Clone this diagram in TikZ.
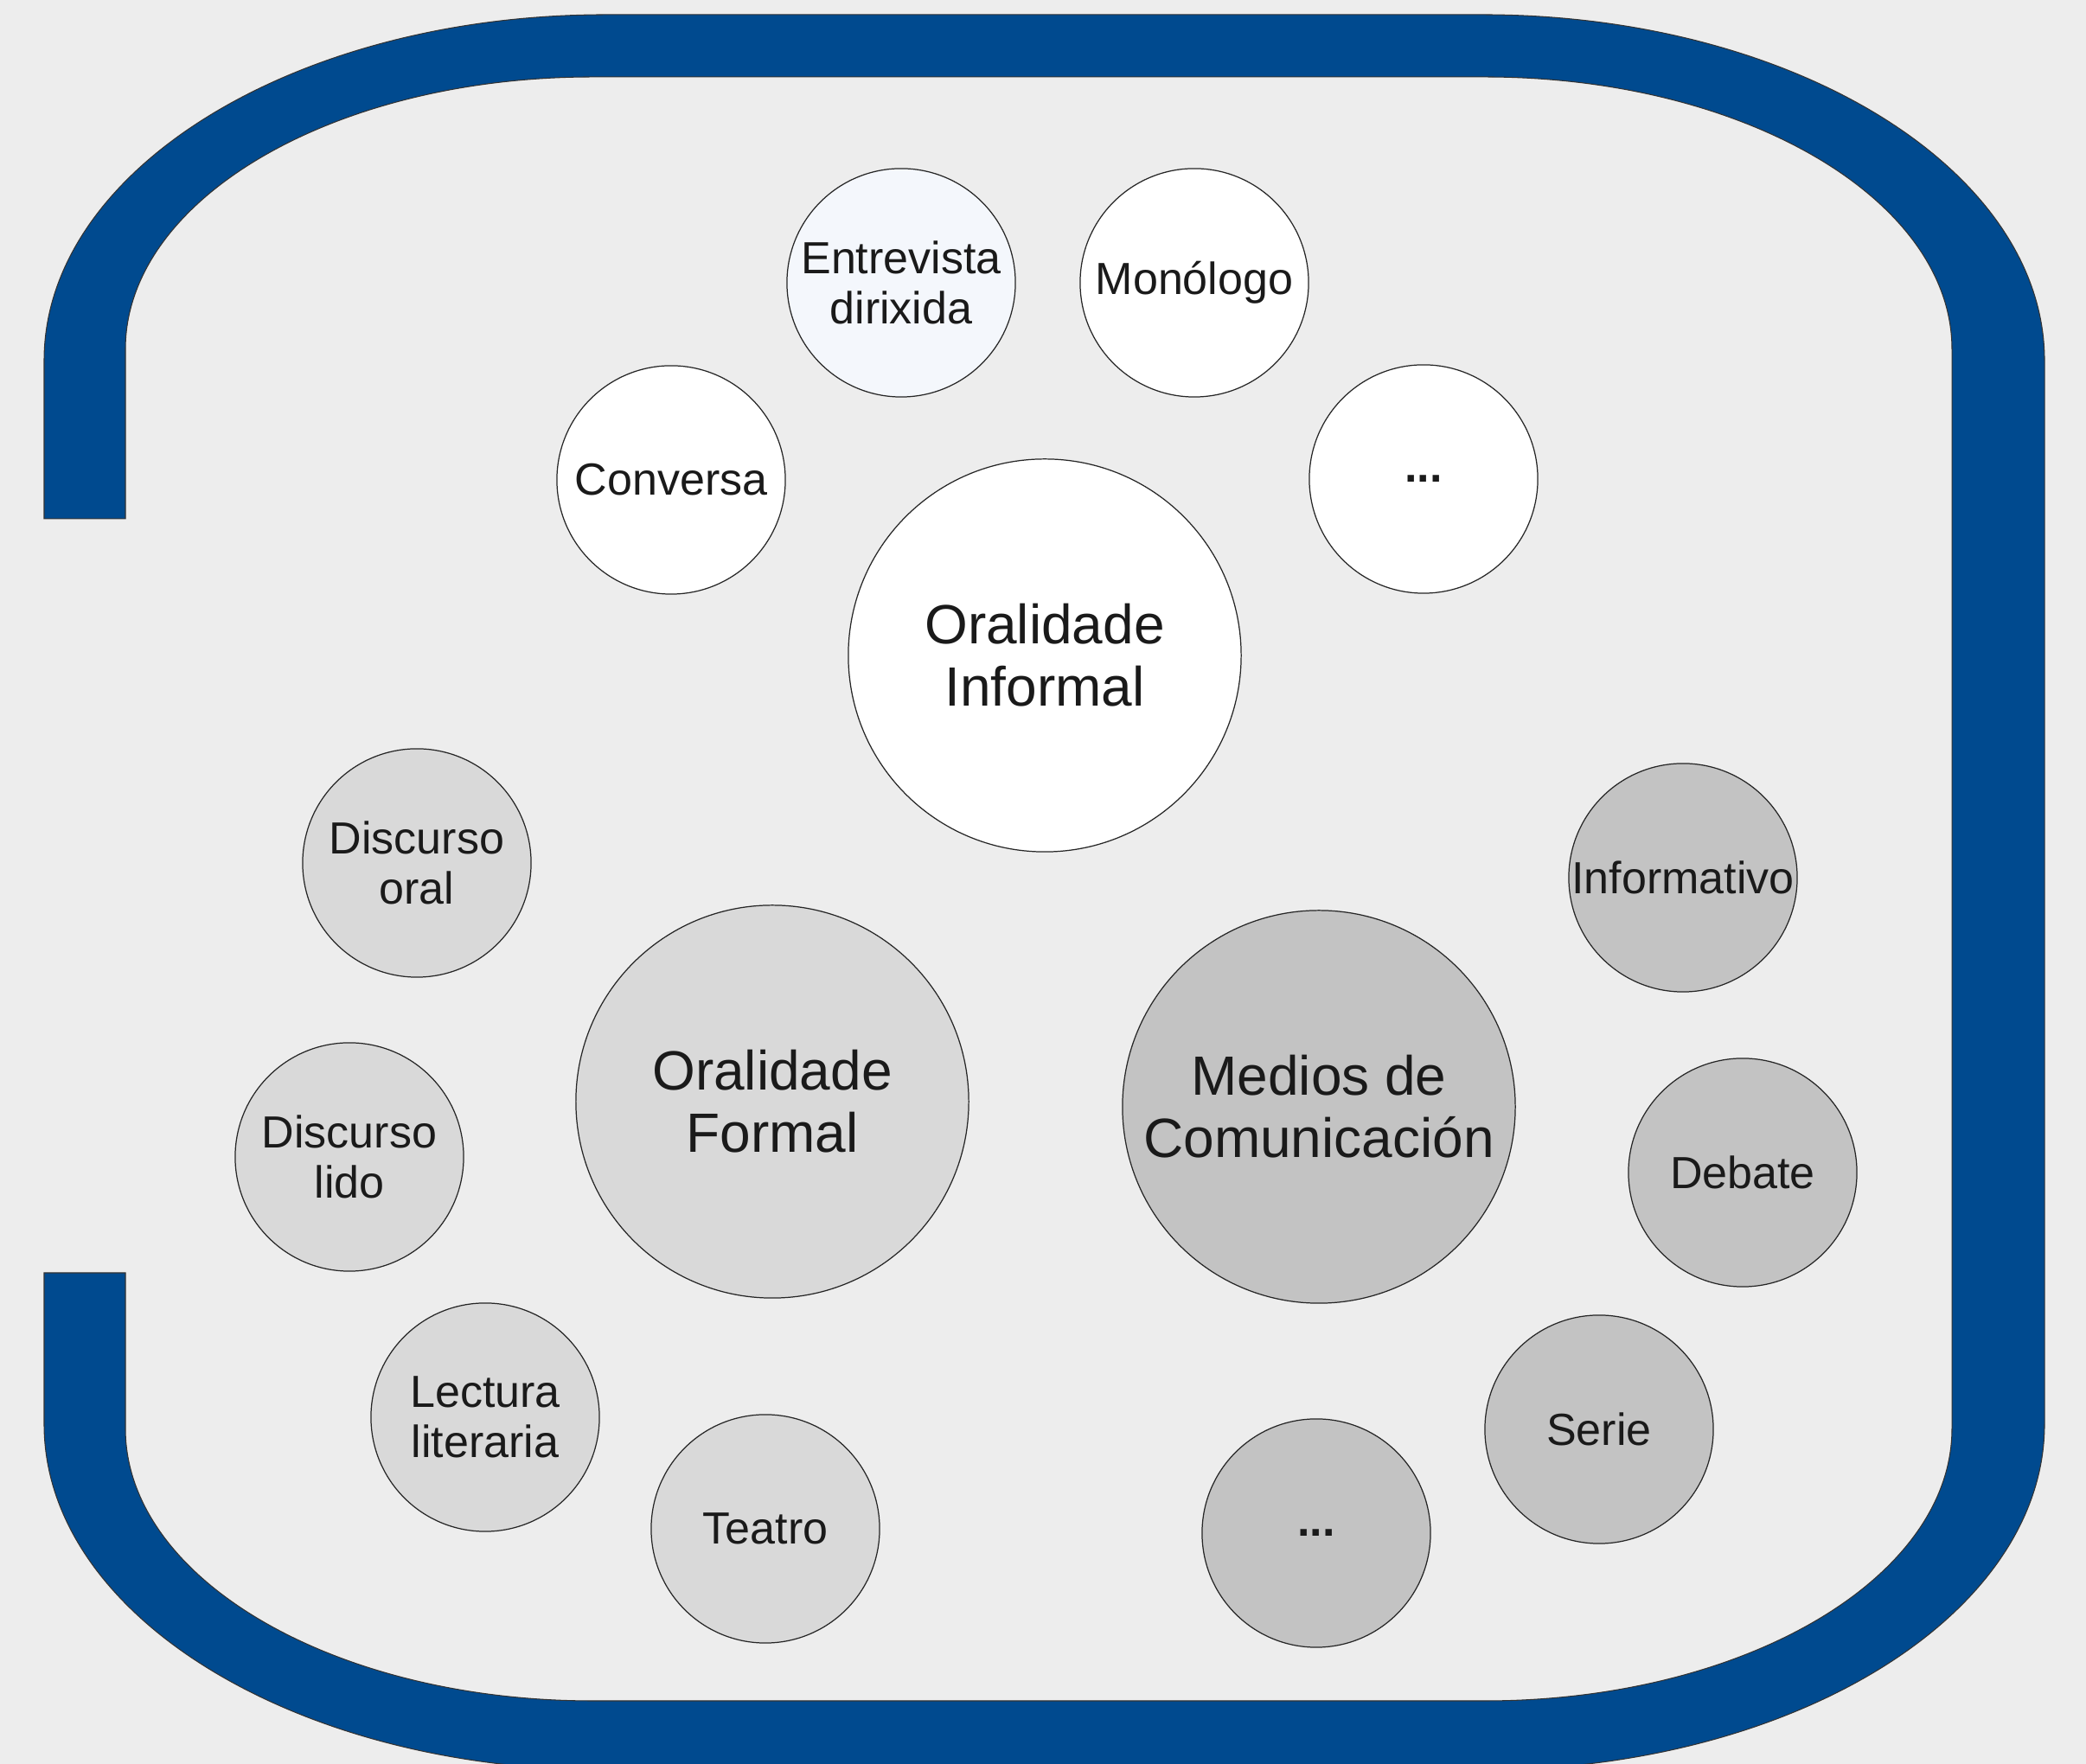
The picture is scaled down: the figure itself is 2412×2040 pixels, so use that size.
\documentclass[tikz,border=0pt]{standalone}
\usepackage{fontspec}
\setmainfont{Liberation Sans}
\definecolor{marco}{HTML}{004A8F}
\definecolor{fondo}{HTML}{EDEDED}
\definecolor{grisclaro}{HTML}{D9D9D9}
\definecolor{grisescuro}{HTML}{C3C3C3}
\definecolor{azulclaro}{HTML}{F4F7FC}
\definecolor{texto}{HTML}{1A1A1A}
\tikzset{
  burbulla/.style={circle,draw=black!85,line width=0.35pt,minimum size=2.64cm,inner sep=0pt,
    align=center,text=texto,font=\fontsize{14.8}{16.5}\selectfont},
  grande/.style={burbulla,minimum size=4.54cm,font=\fontsize{18.2}{20.5}\selectfont},
}
\begin{document}
\begin{tikzpicture}[x=0.01cm,y=0.01cm]
\useasboundingbox (0,0) rectangle (2412,2040);
\clip (0,0) rectangle (2412,2040);
\fill[fondo] (0,0) rectangle (2412,2040);
\draw[fill=marco,draw=black!80,line width=0.3pt] (51,1440) -- (51,1623)
  arc[start angle=180,end angle=90,x radius=650,y radius=400] -- (1714,2023)
  arc[start angle=90,end angle=0,x radius=650,y radius=400] -- (2364,393)
  arc[start angle=0,end angle=-90,x radius=650,y radius=400] -- (701,-7)
  arc[start angle=270,end angle=180,x radius=650,y radius=400] -- (51,568) -- (145,568) -- (145,388)
  arc[start angle=180,end angle=270,x radius=540,y radius=315] -- (1717,73)
  arc[start angle=270,end angle=360,x radius=540,y radius=315] -- (2257,1636)
  arc[start angle=0,end angle=90,x radius=540,y radius=315] -- (685,1951)
  arc[start angle=90,end angle=180,x radius=540,y radius=315] -- (145,1440) -- cycle;
\node[grande,fill=white] (informal) at (1208,1282) {Oralidade\\Informal};
\node[burbulla,fill=azulclaro] (entrevista) at (1042,1713) {Entrevista\\dirixida};
\node[burbulla,fill=white] (monologo) at (1381,1713) {Monólogo};
\node[burbulla,fill=white] (conversa) at (776,1485) {Conversa};
\node[burbulla,fill=white] (outrasinf) at (1646,1486) {\bfseries ...};
\node[grande,fill=grisclaro] (formal) at (893,766) {Oralidade\\Formal};
\node[burbulla,fill=grisclaro] (discoral) at (482,1042) {Discurso\\oral};
\node[burbulla,fill=grisclaro] (disclido) at (404,702) {Discurso\\lido};
\node[burbulla,fill=grisclaro] (lectura) at (561,401) {Lectura\\literaria};
\node[burbulla,fill=grisclaro] (teatro) at (885,272) {Teatro};
\node[grande,fill=grisescuro] (medios) at (1525,760) {Medios de\\Comunicación};
\node[burbulla,fill=grisescuro] (informativo) at (1946,1025) {Informativo};
\node[burbulla,fill=grisescuro] (debate) at (2015,684) {Debate};
\node[burbulla,fill=grisescuro] (serie) at (1849,387) {Serie};
\node[burbulla,fill=grisescuro] (outrasmed) at (1522,267) {\bfseries ...};
\end{tikzpicture}
\end{document}
